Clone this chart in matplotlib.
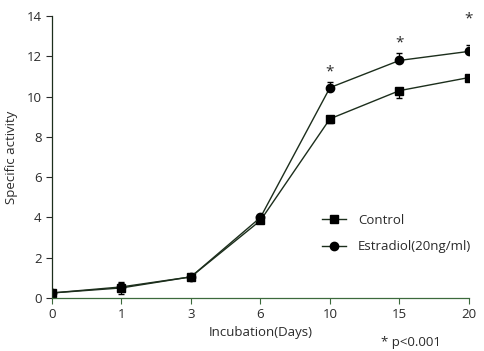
"""Specific activity vs incubation time, control vs estradiol."""

import matplotlib

matplotlib.use("Agg")
import matplotlib.pyplot as plt
from matplotlib.lines import Line2D

# ---------------------------------------------------------------------------
# Data
# ---------------------------------------------------------------------------

days = ["0", "1", "3", "6", "10", "15", "20"]
control = [0.25, 0.5, 1.05, 3.85, 8.9, 10.3, 10.95]
control_err_lo = [0.0, 0.3, 0.0, 0.0, 0.2, 0.35, 0.0]
control_err_hi = [0.0, 0.3, 0.0, 0.0, 0.0, 0.0, 0.0]
estradiol = [0.25, 0.55, 1.05, 4.0, 10.45, 11.8, 12.25]
estradiol_err_lo = [0.0, 0.0, 0.0, 0.0, 0.0, 0.0, 0.0]
estradiol_err_hi = [0.0, 0.2, 0.0, 0.0, 0.3, 0.35, 0.3]
star_days = [4, 5, 6]
star_y = [11.25, 12.65, 13.85]

LINE = "#1c2e1c"
SPINE = "#3c6a3c"
TEXT = "#2a2a2a"
MARK = "black"

plt.rcParams["font.family"] = ["Open Sans", "DejaVu Sans"]

fig = plt.figure(figsize=(4.85, 3.51), dpi=100)
fig.patch.set_facecolor("white")
ax = fig.add_axes([0.107, 0.151, 0.86, 0.803])

x = list(range(len(days)))
ax.errorbar(x, control, yerr=[control_err_lo, control_err_hi], color=LINE, lw=1.0,
            marker="s", ms=6, mfc=MARK, mec=MARK, capsize=2.5, elinewidth=0.9,
            ecolor=MARK, zorder=3)
ax.errorbar(x, estradiol, yerr=[estradiol_err_lo, estradiol_err_hi], color=LINE, lw=1.0,
            marker="o", ms=6, mfc=MARK, mec=MARK, capsize=2.5, elinewidth=0.9,
            ecolor=MARK, zorder=3)

for xi, yi in zip(star_days, star_y):
    ax.text(xi, yi, "*", ha="center", va="center", fontsize=11, color=TEXT)

ax.set_xlim(0, 6)
ax.set_ylim(0, 14)
ax.set_xticks(x)
ax.set_xticklabels(days)
ax.set_yticks(range(0, 15, 2))
ax.tick_params(colors=TEXT, labelsize=9.5, length=4, width=0.8)
ax.tick_params(axis="x", color=SPINE)
ax.spines[["top", "right"]].set_visible(False)
ax.spines["left"].set_color(LINE)
ax.spines["bottom"].set_color(SPINE)
for sp in ax.spines.values():
    sp.set_linewidth(0.9)
    sp.set_zorder(4)

ax.set_xlabel("Incubation(Days)", fontsize=9.5, color=TEXT, labelpad=3)
ax.set_ylabel("Specific activity", fontsize=9.5, color=TEXT, labelpad=6)

handles = [
    Line2D([], [], color=LINE, lw=1.0, marker="s", ms=6, mfc=MARK, mec=MARK),
    Line2D([], [], color=LINE, lw=1.0, marker="o", ms=6, mfc=MARK, mec=MARK),
]
leg = ax.legend(handles, ["Control", "Estradiol(20ng/ml)"], loc="upper left",
                bbox_to_anchor=(0.62, 0.34), frameon=False, fontsize=9.5,
                handlelength=1.8, labelspacing=1.0, handletextpad=0.9)
for t in leg.get_texts():
    t.set_color(TEXT)

fig.text(0.785, 0.005, "* p<0.001", fontsize=9.5, color=TEXT, ha="left", va="bottom")

fig.savefig("out.png", dpi=100)
